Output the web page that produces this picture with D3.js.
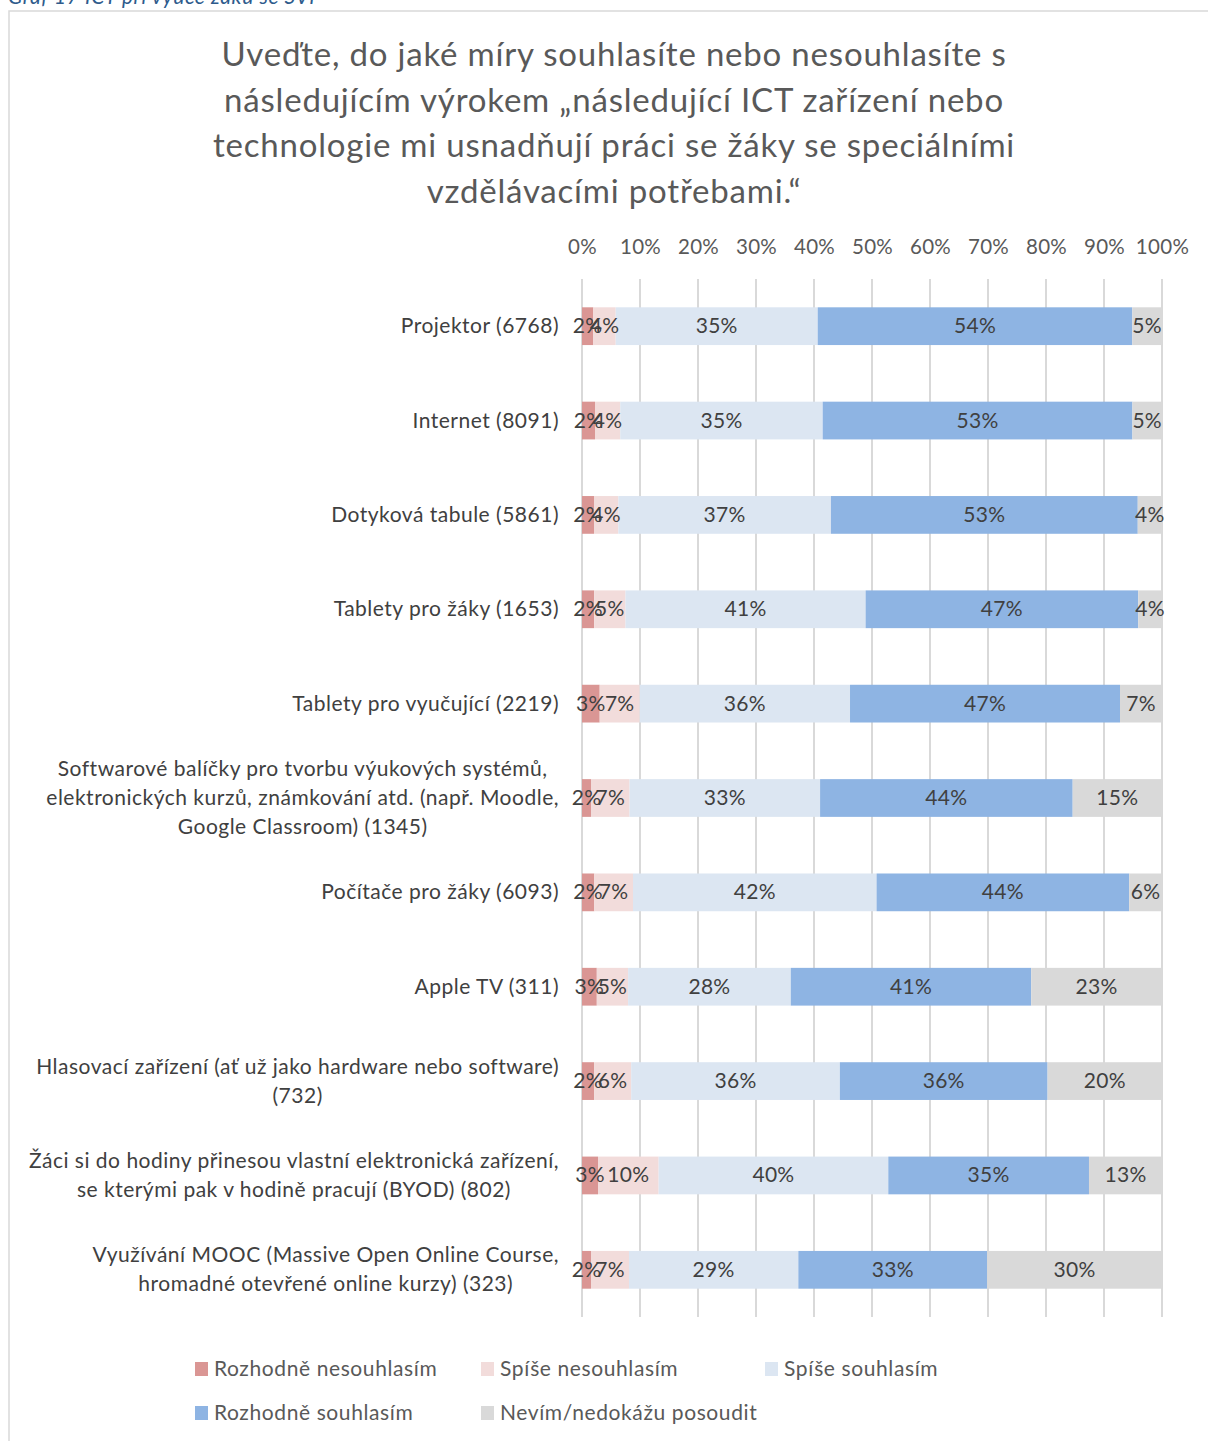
<!DOCTYPE html>
<html lang="cs">
<head>
<meta charset="utf-8">
<script src="https://cdn.jsdelivr.net/npm/d3@7"></script>
<style>
  html, body { margin: 0; padding: 0; background: #fff; }
  svg { display: block; }
  text { font-family: Lato, "Noto Sans", sans-serif; }
</style>
</head>
<body>
<svg id="chart" width="1208" height="1441"></svg>
<script>
// Items (n = respondents), each label split into its display lines
const categories = [
  ["Projektor (6768)"],
  ["Internet (8091)"],
  ["Dotyková tabule (5861)"],
  ["Tablety pro žáky (1653)"],
  ["Tablety pro vyučující (2219)"],
  ["Softwarové balíčky pro tvorbu výukových systémů,", "elektronických kurzů, známkování atd. (např. Moodle,", "Google Classroom) (1345)"],
  ["Počítače pro žáky (6093)"],
  ["Apple TV (311)"],
  ["Hlasovací zařízení (ať už jako hardware nebo software)", "(732)"],
  ["Žáci si do hodiny přinesou vlastní elektronická zařízení,", "se kterými pak v hodině pracují (BYOD) (802)"],
  ["Využívání MOOC (Massive Open Online Course,", "hromadné otevřené online kurzy) (323)"]
];

const seriesNames = ["Rozhodně nesouhlasím", "Spíše nesouhlasím", "Spíše souhlasím", "Rozhodně souhlasím", "Nevím/nedokážu posoudit"];
const seriesColors = ["#da9694", "#f2dcdb", "#dce6f2", "#8eb4e3", "#d9d9d9"];

// Shares of answers in percent
const rozhodneNesouhlasim = [1.95, 2.24, 2.07, 2.1, 3.05, 1.55, 2.12, 2.55, 2.08, 2.76, 1.55];
const spiseNesouhlasim    = [3.86, 4.36, 4.2, 5.4, 6.9, 6.65, 6.67, 5.4, 6.4, 10.45, 6.55];
const spiseSouhlasim      = [34.83, 34.9, 36.65, 41.4, 36.26, 32.85, 42.0, 28.05, 35.98, 39.6, 29.2];
const rozhodneSouhlasim   = [54.24, 53.4, 52.9, 47.0, 46.55, 43.55, 43.55, 41.45, 35.81, 34.6, 32.55];
const nevim               = [5.12, 5.1, 4.18, 4.1, 7.24, 15.4, 5.66, 22.55, 19.73, 12.59, 30.15];

const axisTicks = [0, 10, 20, 30, 40, 50, 60, 70, 80, 90, 100];

const titleLines = [
  "Uveďte, do jaké míry souhlasíte nebo nesouhlasíte s",
  "následujícím výrokem „následující ICT zařízení nebo",
  "technologie mi usnadňují práci se žáky se speciálními",
  "vzdělávacími potřebami.“"
];
const caption = "Graf 17 ICT při výuce žáků se SVP";

const seriesValues = [rozhodneNesouhlasim, spiseNesouhlasim, spiseSouhlasim, rozhodneSouhlasim, nevim];
const rows = categories.map((c, i) => {
  const r = { key: i };
  seriesNames.forEach((s, j) => { r[s] = seriesValues[j][i]; });
  return r;
});

const svg = d3.select("#chart");

// Caption above the chart frame (partly cut by the page edge)
svg.append("text")
  .attr("x", 8).attr("y", 4)
  .attr("font-style", "italic")
  .attr("font-size", 21)
  .attr("letter-spacing", 0.6)
  .attr("fill", "#2e5b8c")
  .text(caption);

// Chart frame
svg.append("rect")
  .attr("x", 9).attr("y", 11)
  .attr("width", 1260).attr("height", 1500)
  .attr("fill", "none")
  .attr("stroke", "#d9d9d9")
  .attr("stroke-width", 1.5);

// Title
svg.append("g").selectAll("text")
  .data(titleLines)
  .join("text")
  .attr("x", 614)
  .attr("y", (d, i) => 66 + i * 45.5)
  .attr("text-anchor", "middle")
  .attr("font-size", 33)
  .attr("letter-spacing", 0.8)
  .attr("fill", "#595959")
  .text(d => d);

const x = d3.scaleLinear().domain([0, 100]).range([582, 1162]);
const y = d3.scaleBand()
  .domain(d3.range(categories.length))
  .range([279, 1317])
  .paddingInner(0.6)
  .paddingOuter(0.3);

// Vertical gridlines
svg.append("g")
  .selectAll("line")
  .data(axisTicks)
  .join("line")
  .attr("x1", d => x(d)).attr("x2", d => x(d))
  .attr("y1", 279).attr("y2", 1317)
  .attr("stroke", "#d9d9d9")
  .attr("stroke-width", 2);

// Percentage axis on top
const xAxis = svg.append("g")
  .attr("transform", "translate(0,254)")
  .call(d3.axisTop(x).tickValues(axisTicks).tickFormat(d => d + "%").tickSize(0).tickPadding(0));
xAxis.select(".domain").remove();
xAxis.selectAll("text")
  .attr("font-family", "Lato, 'Noto Sans', sans-serif")
  .attr("font-size", 20.5)
  .attr("letter-spacing", 0.3)
  .attr("fill", "#595959")
  .attr("dy", 0);

// Stacked bars
const stack = d3.stack().keys(seriesNames);
const layers = stack(rows);

const layerG = svg.append("g")
  .selectAll("g")
  .data(layers)
  .join("g")
  .attr("fill", (d, i) => seriesColors[i]);

layerG.selectAll("rect")
  .data(d => d)
  .join("rect")
  .attr("x", d => x(d[0]))
  .attr("width", d => x(d[1]) - x(d[0]))
  .attr("y", d => y(d.data.key))
  .attr("height", y.bandwidth());

// Value labels centred in each segment
const labelG = svg.append("g");
layers.forEach(layer => {
  labelG.append("g").selectAll("text")
    .data(layer)
    .join("text")
    .attr("x", d => (x(d[0]) + x(d[1])) / 2)
    .attr("y", d => y(d.data.key) + y.bandwidth() / 2 + 7)
    .attr("text-anchor", "middle")
    .attr("font-size", 21)
    .attr("letter-spacing", 0.3)
    .attr("fill", "#404040")
    .text(d => Math.round(d[1] - d[0]) + "%");
});

// Category labels: single lines end at the axis, wrapped labels are centred
// as a block whose widest line ends at the axis
const labelRight = 559;
const catG = svg.append("g");
categories.forEach((lines, i) => {
  const cy = y(i) + y.bandwidth() / 2;
  const lh = 29;
  const t = catG.append("text")
    .attr("font-size", 21)
    .attr("letter-spacing", 0.5)
    .attr("fill", "#404040");
  const spans = lines.map((ln, k) => t.append("tspan")
    .attr("y", cy + 7 + (k - (lines.length - 1) / 2) * lh)
    .text(ln));
  if (lines.length === 1) {
    t.attr("text-anchor", "end");
    spans[0].attr("x", labelRight);
  } else {
    const widest = d3.max(spans, s => s.node().getComputedTextLength());
    t.attr("text-anchor", "middle");
    spans.forEach(s => s.attr("x", labelRight - widest / 2));
  }
});

// Legend
const legendItems = [
  { name: seriesNames[0], color: seriesColors[0], x: 195, y: 1369 },
  { name: seriesNames[1], color: seriesColors[1], x: 481, y: 1369 },
  { name: seriesNames[2], color: seriesColors[2], x: 765, y: 1369 },
  { name: seriesNames[3], color: seriesColors[3], x: 195, y: 1413 },
  { name: seriesNames[4], color: seriesColors[4], x: 481, y: 1413 }
];
const lg = svg.append("g").selectAll("g")
  .data(legendItems)
  .join("g")
  .attr("transform", d => `translate(${d.x},${d.y})`);
lg.append("rect")
  .attr("x", 0).attr("y", -7)
  .attr("width", 13).attr("height", 14)
  .attr("fill", d => d.color);
lg.append("text")
  .attr("x", 19).attr("y", 7)
  .attr("font-size", 21)
  .attr("letter-spacing", 0.6)
  .attr("fill", "#595959")
  .text(d => d.name);
</script>
</body>
</html>
